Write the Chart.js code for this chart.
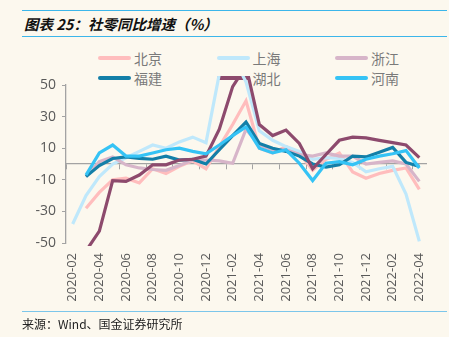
<!DOCTYPE html>
<html>
<head>
<meta charset="utf-8">
<script src="https://cdn.jsdelivr.net/npm/chart.js@4"></script>
<style>
  body { margin: 0; background: #fcf8ee; }
  #wrap { position: relative; width: 449px; height: 337px; overflow: hidden; }
  #c { position: absolute; left: 0; top: 0; }
  .rule { position: absolute; left: 22px; width: 425px; height: 1px; background: #3cb6ea; }
  #title { position: absolute; left: 24px; top: 13px; font: italic bold 14.5px "Noto Sans CJK SC", sans-serif; color: #111; white-space: nowrap; }
  #src { position: absolute; left: 22px; top: 315px; font: 12px "Noto Sans CJK SC", sans-serif; color: #222; white-space: nowrap; }
  #legend { position: absolute; left: 98px; top: 48px; display: grid; grid-template-columns: 118.5px 118.5px 118.5px; grid-auto-rows: 20px; }
  .item { display: flex; align-items: center; font: 14px "Noto Sans CJK SC", sans-serif; color: #7a7a7a; }
  .mark { width: 33px; height: 3.5px; border-radius: 2px; margin-right: 3px; }
</style>
</head>
<body>
<div id="wrap">
  <div class="rule" style="top:10px"></div>
  <div id="title">图表 25：社零同比增速（%）</div>
  <div class="rule" style="top:36px"></div>
  <div id="legend"></div>
  <canvas id="c" width="449" height="337"></canvas>
  <div class="rule" style="top:311px;background:#7cc6ea"></div>
  <div id="src">来源：Wind、国金证券研究所</div>
</div>
<script>
// 社零同比增速（%），2020-02 ~ 2022-04
const months = ['2020-02', '2020-03', '2020-04', '2020-05', '2020-06', '2020-07', '2020-08', '2020-09',
  '2020-10', '2020-11', '2020-12', '2021-01', '2021-02', '2021-03', '2021-04', '2021-05', '2021-06',
  '2021-07', '2021-08', '2021-09', '2021-10', '2021-11', '2021-12', '2022-01', '2022-02', '2022-03', '2022-04'];

const beijing  = [null, -28, -18, -10, -9, -12, -3, -6, -1.5, 2, -3, 11, 25, 40, 10, 7, 11, 7, -4, 3, 7, -5, -9, -6, -4, -2.5, -16];
const shanghai = [-38, -20, -8, 0, 4, 8, 12, 10, 14, 17, 13.5, 57, 68, 52, 21, 15, 11, 8, 3, 4, 3.5, 1, -5, -3, -1.5, -19, -49];
const zhejiang = [null, -8, 1.5, 4.5, -0.5, -2.5, -3.5, -4, -1, 2.5, 2.5, 2, 0.5, 22, 12, 9, 9, 6, 5, 7, 5, 5, 0, 1, 2, 0, -11];
const fujian   = [null, -8, -1, 3.5, 4.5, 3.5, 3, 5, 2.5, 3, 0, 9, 18, 26.5, 13, 10, 8, 5, 0, -2, -0.5, 5, 4.5, 7.5, 10.5, 1, -1.5];
const hubei    = [null, -55, -42.5, -10.5, -11, -7, -0.5, -0.5, 2.5, 3, 5, 22, 49, 62, 25, 18, 21.5, 13, -3, 6, 15, 17, 16.5, 15, 13.5, 12, 4];
const henan    = [null, -7, 7, 12, 5, 5, 7, 9, 10, 8, 6.5, 12, 18, 23.5, 10, 7, 9, 0.5, -10.5, 0.5, 1.5, -0.5, 3, 5, 6.5, 8.5, -2.5];

const names  = ['北京', '上海', '浙江', '福建', '湖北', '河南'];
const series = [beijing, shanghai, zhejiang, fujian, hubei, henan];
const colors = ['#ffbdbd', '#bfe8fb', '#d7b5c9', '#137fa8', '#8d4a6d', '#35c3f5'];
const yTicks = [-50, -30, -10, 10, 30, 50];

const axisGray = '#a3a3a3';
const tickFont = { family: 'Open Sans', size: 13 };

// legend (3 columns x 2 rows)
const legend = document.getElementById('legend');
names.forEach((n, i) => {
  const item = document.createElement('div');
  item.className = 'item';
  item.innerHTML = '<span class="mark" style="background:' + colors[i] + '"></span>' + n;
  legend.appendChild(item);
});

const chart = new Chart(document.getElementById('c'), {
  type: 'line',
  data: {
    labels: months,
    datasets: names.map((n, i) => ({
      label: n,
      data: series[i],
      borderColor: colors[i],
      backgroundColor: colors[i],
      borderWidth: 3.2,
      pointRadius: 0,
      tension: 0,
      order: names.length - i,
      clip: { left: 0, top: 9, right: 0, bottom: 3 }
    }))
  },
  options: {
    responsive: false,
    animation: false,
    layout: { padding: { top: 85, right: 23, left: 0, bottom: 0 } },
    plugins: {
      legend: { display: false },
      tooltip: { enabled: false }
    },
    scales: {
      x: {
        position: 'bottom',
        offset: true,
        grid: { display: false, drawTicks: false },
        border: { display: false },
        ticks: {
          autoSkip: false,
          maxRotation: 90,
          minRotation: 90,
          padding: 10,
          color: '#595959',
          font: tickFont,
          callback: function (v, i) { return i % 2 === 0 ? this.getLabelForValue(v) : ''; }
        },
        afterFit: s => { s.height = 94; }
      },
      x0: {
        type: 'category',
        axis: 'x',
        position: { y: 0 },
        offset: true,
        grid: {
          offset: true,
          drawOnChartArea: false,
          tickLength: 5,
          tickColor: ctx => (ctx.index % 2 === 0 ? axisGray : 'rgba(0,0,0,0)')
        },
        border: { color: axisGray, width: 1.3 },
        ticks: { display: false }
      },
      y: {
        min: -50,
        max: 50,
        afterBuildTicks: s => { s.ticks = yTicks.map(v => ({ value: v })); },
        grid: { drawOnChartArea: false, tickLength: 4, color: axisGray },
        border: { color: axisGray, width: 1.3 },
        ticks: { padding: 6, color: '#595959', font: { family: 'Open Sans', size: 14 } },
        afterFit: s => { s.width = 66; }
      }
    }
  }
});
</script>
</body>
</html>
